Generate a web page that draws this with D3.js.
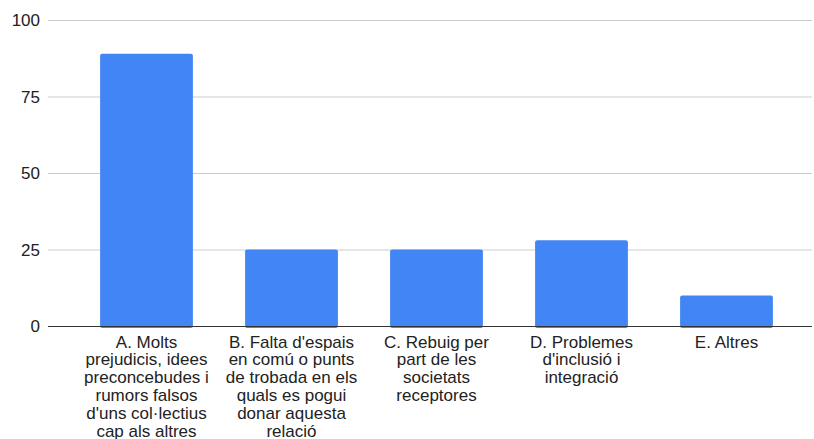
<!DOCTYPE html>
<html>
<head>
<meta charset="utf-8">
<script src="https://cdn.jsdelivr.net/npm/d3@7"></script>
<style>
  body { margin: 0; background: #fff; }
  text { font-family: Arial, "Liberation Sans", sans-serif; fill: #222; }
</style>
</head>
<body>
<svg id="chart" width="814" height="439"></svg>
<script>
// Bar chart: reasons hindering relations between groups (values in %)
// category labels keep the line breaks shown in the original chart
const categories = [
  "A. Molts\nprejudicis, idees\npreconcebudes i\nrumors falsos\nd'uns col·lectius\ncap als altres",
  "B. Falta d'espais\nen comú o punts\nde trobada en els\nquals es pogui\ndonar aquesta\nrelació",
  "C. Rebuig per\npart de les\nsocietats\nreceptores",
  "D. Problemes\nd'inclusió i\nintegració",
  "E. Altres"
];
const values = [89, 25, 25, 28, 10];
const yTicks = [0, 25, 50, 75, 100];

const svg = d3.select("#chart");
const x = d3.scaleBand().domain(categories).range([74, 799])
  .paddingInner(0.36).paddingOuter(0.18);
const y = d3.scaleLinear().domain([0, 100]).range([326, 20]);

// gridlines
svg.append("g").selectAll("line")
  .data(yTicks.filter(t => t > 0))
  .join("line")
  .attr("x1", 48).attr("x2", 812)
  .attr("y1", d => y(d) + 0.5).attr("y2", d => y(d) + 0.5)
  .attr("stroke", "#ccc").attr("stroke-width", 1);

// y tick labels
svg.append("g").selectAll("text")
  .data(yTicks)
  .join("text")
  .attr("x", 40).attr("y", d => y(d) + 6)
  .attr("text-anchor", "end")
  .style("font-size", "17px")
  .text(d => d);

// bars
svg.append("g").selectAll("rect")
  .data(values)
  .join("rect")
  .attr("x", (d, i) => x(categories[i]))
  .attr("y", d => y(d))
  .attr("width", x.bandwidth())
  .attr("height", d => y(0) - y(d) + 2)
  .attr("rx", 2)
  .attr("fill", "#4285f4");

// baseline
svg.append("line")
  .attr("x1", 48).attr("x2", 812)
  .attr("y1", y(0) + 0.5).attr("y2", y(0) + 0.5)
  .attr("stroke", "#333").attr("stroke-width", 1);

// category labels
svg.append("g").selectAll("text")
  .data(categories)
  .join("text")
  .attr("text-anchor", "middle")
  .style("font-size", "17px")
  .attr("y", 347.5)
  .each(function (d) {
    const cx = x(d) + x.bandwidth() / 2;
    d3.select(this).selectAll("tspan")
      .data(d.split("\n"))
      .join("tspan")
      .attr("x", cx)
      .attr("dy", (s, i) => i ? 17.9 : 0)
      .text(s => s);
  });
</script>
</body>
</html>
